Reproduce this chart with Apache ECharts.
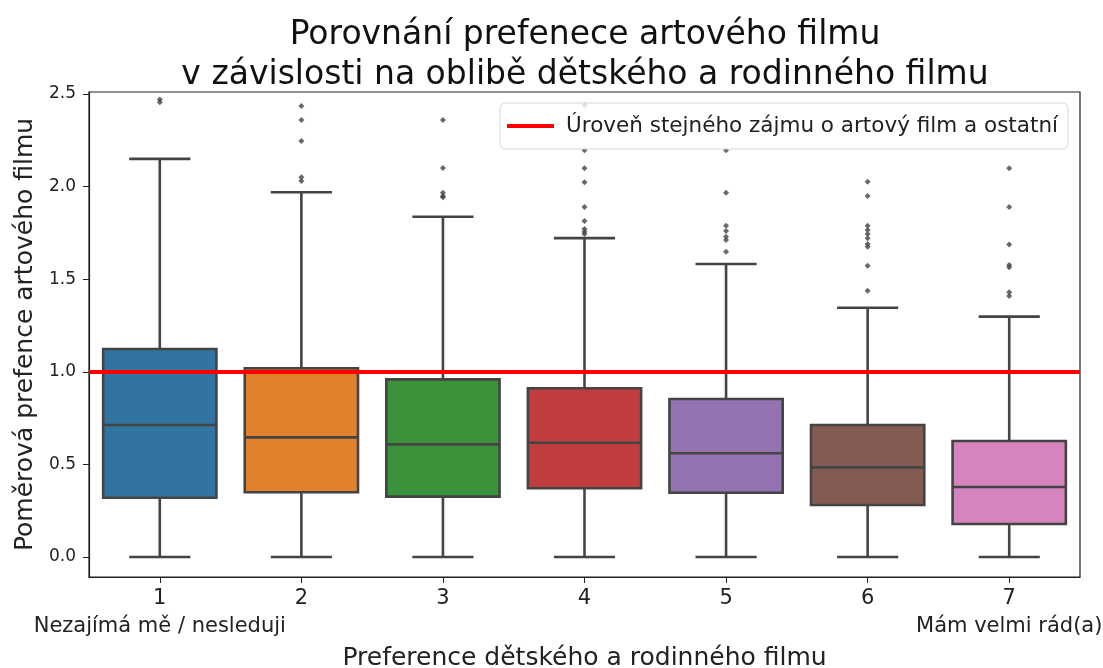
<!DOCTYPE html>
<html>
<head>
<meta charset="utf-8">
<script src="https://cdn.jsdelivr.net/npm/echarts@6/dist/echarts.min.js"></script>
<style>html,body{margin:0;padding:0;background:#fff}#c{width:1103px;height:668px}</style>
</head>
<body>
<div id="c"></div>
<script>
const categories = ['1', '2', '3', '4', '5', '6', '7'];
const lowWhisker = [0.0, 0.0, 0.0, 0.0, 0.0, 0.0, 0.0];
const q1 = [0.32, 0.35, 0.326, 0.371, 0.347, 0.281, 0.178];
const median = [0.713, 0.646, 0.608, 0.617, 0.56, 0.484, 0.378];
const q3 = [1.123, 1.019, 0.959, 0.911, 0.853, 0.713, 0.626];
const highWhisker = [2.15, 1.97, 1.837, 1.722, 1.582, 1.346, 1.298];
const outliers = [
  [2.47, 2.455],
  [2.435, 2.36, 2.246, 2.05, 2.03],
  [2.36, 2.10, 1.967, 1.95, 1.942],
  [2.44, 2.197, 2.099, 2.023, 1.89, 1.814, 1.771, 1.757, 1.744],
  [2.197, 1.967, 1.789, 1.76, 1.73, 1.712, 1.649],
  [2.027, 1.949, 1.789, 1.766, 1.744, 1.721, 1.69, 1.675, 1.573, 1.438],
  [2.099, 1.89, 1.688, 1.577, 1.565, 1.43, 1.41]
];
const yTicks = [0, 0.5, 1.0, 1.5, 2.0, 2.5];
const referenceLevel = 1.0;
const extremeLabels = {'1': 'Nezajímá mě / nesleduji', '7': 'Mám velmi rád(a)'};
const boxColors = ['#3274a1', '#e1812c', '#3a923a', '#c03d3e', '#9372b2', '#845b53', '#d684bd'];

const FONT = 'DejaVu Sans';
const LINE = '#444444';

const boxData = categories.map((c, i) => [i, lowWhisker[i], q1[i], median[i], q3[i], highWhisker[i]]);
const outlierData = [];
outliers.forEach((arr, i) => arr.forEach(v => outlierData.push([i, v])));

const chart = echarts.init(document.getElementById('c'));
chart.setOption({
  animation: false,
  backgroundColor: '#fff',
  textStyle: {fontFamily: FONT},
  title: {
    text: 'Porovnání prefenece artového filmu\nv závislosti na oblibě dětského a rodinného filmu',
    left: 580, top: 10, textAlign: 'center',
    textStyle: {fontFamily: FONT, fontSize: 33, fontWeight: 'normal', color: '#111', lineHeight: 40}
  },
  legend: {
    right: 35, top: 103,
    data: [{name: 'Úroveň stejného zájmu o artový film a ostatní', icon: 'rect'}],
    itemWidth: 47, itemHeight: 4,
    padding: [12, 10, 12, 7],
    backgroundColor: 'rgba(255,255,255,0.8)',
    borderColor: '#d6d6d6', borderWidth: 1, borderRadius: 5,
    textStyle: {fontFamily: FONT, fontSize: 21.5, color: '#222', padding: [0, 0, 0, 7]}
  },
  grid: {left: 89, right: 23, top: 92, bottom: 91, show: true, borderColor: '#222', borderWidth: 1.2,
    containLabel: false, outerBoundsMode: 'none'},
  xAxis: {
    type: 'category', data: categories, boundaryGap: true,
    name: 'Preference dětského a rodinného filmu', nameLocation: 'middle', nameGap: 64,
    nameTextStyle: {fontFamily: FONT, fontSize: 25, color: '#222'},
    axisLine: {show: true, onZero: false, lineStyle: {color: '#222', width: 1.2}},
    axisTick: {show: true, alignWithLabel: true, length: 6, lineStyle: {color: '#222'}},
    axisLabel: {
      interval: 0, hideOverlap: false,
      fontFamily: FONT, fontSize: 21, color: '#222', margin: 8, lineHeight: 28,
      formatter: v => extremeLabels[v] ? v + '\n' + extremeLabels[v] : v
    },
    splitLine: {show: false}
  },
  yAxis: {
    type: 'value', min: -0.108, max: 2.511,
    name: 'Poměrová prefence artového filmu', nameLocation: 'middle', nameGap: 38,
    nameTextStyle: {fontFamily: FONT, fontSize: 25, color: '#222'},
    axisLine: {show: true, lineStyle: {color: '#222', width: 1.2}},
    axisTick: {show: true, length: 6, lineStyle: {color: '#222'}, customValues: yTicks},
    axisLabel: {fontFamily: FONT, fontSize: 17, color: '#222', margin: 13, customValues: yTicks, formatter: v => Number(v).toFixed(1)},
    splitLine: {show: false}
  },
  series: [
    {
      type: 'custom',
      name: 'box',
      data: boxData,
      encode: {x: 0, y: [1, 2, 3, 4, 5]},
      z: 3,
      renderItem: function (params, api) {
        const idx = api.value(0);
        const pLow = api.coord([idx, api.value(1)]);
        const pQ1 = api.coord([idx, api.value(2)]);
        const pMed = api.coord([idx, api.value(3)]);
        const pQ3 = api.coord([idx, api.value(4)]);
        const pHigh = api.coord([idx, api.value(5)]);
        const band = api.size([1, 0])[0];
        const w = band * 0.8;
        const cap = w * 0.27;
        const x = pQ1[0];
        const lineStyle = {stroke: LINE, lineWidth: 2.6, fill: null};
        return {
          type: 'group',
          children: [
            {type: 'line', shape: {x1: x, y1: pQ3[1], x2: x, y2: pHigh[1]}, style: lineStyle},
            {type: 'line', shape: {x1: x, y1: pQ1[1], x2: x, y2: pLow[1]}, style: lineStyle},
            {type: 'line', shape: {x1: x - cap, y1: pHigh[1], x2: x + cap, y2: pHigh[1]}, style: lineStyle},
            {type: 'line', shape: {x1: x - cap, y1: pLow[1], x2: x + cap, y2: pLow[1]}, style: lineStyle},
            {type: 'rect', shape: {x: x - w / 2, y: pQ3[1], width: w, height: pQ1[1] - pQ3[1]},
              style: {fill: boxColors[idx], stroke: LINE, lineWidth: 2.6}},
            {type: 'line', shape: {x1: x - w / 2, y1: pMed[1], x2: x + w / 2, y2: pMed[1]}, style: lineStyle}
          ]
        };
      }
    },
    {
      type: 'scatter', name: 'outliers', data: outlierData,
      symbol: 'diamond', symbolSize: 6, z: 3,
      itemStyle: {color: LINE}
    },
    {
      type: 'line', name: 'Úroveň stejného zájmu o artový film a ostatní',
      data: [], color: 'red', z: 4,
      lineStyle: {color: 'red', width: 4},
      markLine: {
        silent: true, symbol: 'none', label: {show: false},
        lineStyle: {color: 'red', width: 4, type: 'solid'},
        data: [{yAxis: referenceLevel}]
      }
    }
  ]
});
</script>
</body>
</html>
